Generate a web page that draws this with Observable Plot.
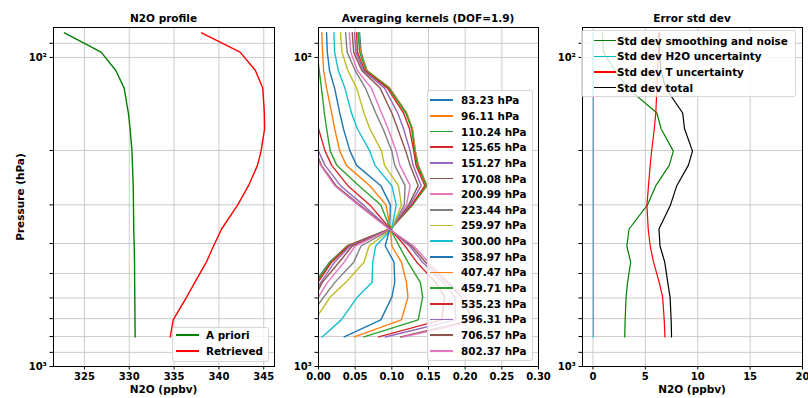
<!DOCTYPE html>
<html><head><meta charset="utf-8">
<script src="https://cdn.jsdelivr.net/npm/d3@7"></script>
<script src="https://cdn.jsdelivr.net/npm/@observablehq/plot@0.6"></script>
<style>
body{margin:0;background:#fff;}
#chart{position:relative;width:808px;height:398px;overflow:hidden;font-family:"DejaVu Sans",sans-serif;font-weight:bold;color:#000;}
#chart svg{position:absolute;left:0;top:0;background:transparent;}
.t{position:absolute;white-space:nowrap;font-size:10.5px;transform:translate(-50%,-50%);line-height:1;}
.leg{position:absolute;background:rgba(255,255,255,0.8);border:1px solid rgba(204,204,204,0.8);border-radius:3px;box-sizing:border-box;}
</style></head>
<body><div id="chart"></div>
<script>
// ---------- data ----------
const levels = [83.23, 96.11, 110.24, 125.65, 151.27, 170.08, 200.99, 223.44, 259.97, 300.00, 358.97, 407.47, 459.71, 535.23, 596.31, 706.57, 802.37];
const kernelLabels = ["83.23 hPa","96.11 hPa","110.24 hPa","125.65 hPa","151.27 hPa","170.08 hPa","200.99 hPa","223.44 hPa","259.97 hPa","300.00 hPa","358.97 hPa","407.47 hPa","459.71 hPa","535.23 hPa","596.31 hPa","706.57 hPa","802.37 hPa"];
const kernelColors = ["#1f77b4","#ff7f0e","#2ca02c","#d62728","#9467bd","#8c564b","#e377c2","#7f7f7f","#bcbd22","#17becf","#1f77b4","#ff7f0e","#2ca02c","#d62728","#9467bd","#8c564b","#e377c2"];

const aPriori   = [322.77, 326.86, 328.5, 329.43, 329.9, 330.1, 330.3, 330.36, 330.44, 330.47, 330.5, 330.55, 330.59, 330.6, 330.62, 330.64, 330.66];
const retrieved = [338.07, 342.36, 344.07, 344.89, 345.07, 345.1, 344.7, 344.3, 343.3, 342.1, 340.3, 339.4, 338.6, 337.3, 336.4, 334.9, 334.57];

// averaging kernel rows (one per retrieval level), values at each level
const kernelValues = [
 [0.056,0.058,0.066,0.097,0.120,0.128,0.132,0.136,0.148,0.128,0.097,0.039,0.015,-0.005,-0.017,-0.030,-0.040],
 [0.055,0.057,0.066,0.097,0.120,0.128,0.132,0.136,0.148,0.128,0.098,0.039,0.016,-0.004,-0.016,-0.030,-0.040],
 [0.054,0.056,0.065,0.096,0.119,0.127,0.131,0.135,0.147,0.128,0.098,0.040,0.016,-0.003,-0.015,-0.030,-0.040],
 [0.052,0.053,0.063,0.094,0.116,0.124,0.130,0.133,0.145,0.127,0.098,0.041,0.018,-0.001,-0.013,-0.028,-0.038],
 [0.049,0.051,0.061,0.090,0.108,0.116,0.125,0.129,0.140,0.125,0.099,0.043,0.022,0.003,-0.008,-0.025,-0.036],
 [0.046,0.048,0.059,0.084,0.100,0.108,0.119,0.125,0.136,0.123,0.099,0.046,0.028,0.005,-0.005,-0.020,-0.035],
 [0.042,0.044,0.053,0.072,0.086,0.095,0.106,0.111,0.125,0.120,0.099,0.050,0.035,0.012,0.000,-0.020,-0.035],
 [0.037,0.039,0.050,0.064,0.078,0.088,0.100,0.104,0.118,0.117,0.100,0.058,0.048,0.022,0.007,-0.015,-0.030],
 [0.030,0.032,0.040,0.052,0.062,0.070,0.086,0.090,0.109,0.113,0.100,0.069,0.062,0.037,0.016,-0.005,-0.020],
 [0.021,0.022,0.027,0.036,0.045,0.053,0.070,0.077,0.100,0.106,0.100,0.078,0.074,0.073,0.053,0.031,0.005],
 [0.011,0.012,0.015,0.022,0.029,0.034,0.043,0.052,0.085,0.098,0.097,0.091,0.103,0.104,0.100,0.085,0.035],
 [0.0045,0.0055,0.007,0.011,0.018,0.022,0.029,0.038,0.070,0.092,0.098,0.100,0.113,0.120,0.122,0.113,0.049],
 [-0.005,-0.002,0.001,0.004,0.008,0.011,0.016,0.025,0.055,0.085,0.098,0.110,0.122,0.139,0.142,0.136,0.062],
 [-0.045,-0.042,-0.035,-0.020,-0.006,0.000,0.009,0.018,0.040,0.070,0.098,0.118,0.134,0.160,0.172,0.168,0.082],
 [-0.055,-0.050,-0.042,-0.028,-0.014,-0.007,0.000,0.009,0.030,0.061,0.097,0.124,0.142,0.170,0.186,0.187,0.091],
 [-0.060,-0.055,-0.047,-0.033,-0.018,-0.011,-0.004,0.004,0.024,0.056,0.097,0.127,0.146,0.175,0.195,0.210,0.112],
 [-0.062,-0.057,-0.049,-0.035,-0.020,-0.012,-0.005,0.003,0.022,0.054,0.096,0.130,0.150,0.178,0.200,0.220,0.115]
];

const sdSmoothNoise = [0.9, 1.0, 2.1, 3.3, 6.1, 6.5, 7.67, 7.28, 6.0, 5.2, 3.45, 3.23, 3.6, 3.3, 3.16, 3.07, 3.03];
const sdH2O        = [0.03, 0.03, 0.03, 0.03, 0.03, 0.03, 0.03, 0.03, 0.03, 0.03, 0.03, 0.03, 0.03, 0.03, 0.03, 0.03, 0.03];
const sdT          = [6.3, 6.26, 6.17, 6.1, 6.0, 5.85, 5.6, 5.46, 5.3, 5.15, 5.27, 5.46, 5.78, 6.33, 6.65, 6.8, 6.87];
const sdTotal      = [6.36, 6.34, 6.49, 6.94, 8.56, 8.74, 9.5, 9.1, 8.0, 7.4, 6.3, 6.4, 6.85, 7.14, 7.36, 7.46, 7.5];

const yTicks = [90, 100, 200, 300, 400, 500, 600, 700, 800, 900, 1000];
const xTicksProfile = [325, 330, 335, 340, 345];
const xTicksKernel = [0, 0.05, 0.10, 0.15, 0.20, 0.25, 0.30];
const xTicksError = [0, 5, 10, 15, 20];

// ---------- layout ----------
const W = 808, H = 398, TOP = 27, BOTTOM = 366;
const chart = document.getElementById("chart");

function panel(left, right, xDomain, xTicks, xFmt, marks, extra = {}) {
  return Plot.plot({
    width: W, height: H,
    marginLeft: left, marginRight: W - right, marginTop: TOP, marginBottom: H - BOTTOM,
    style: {background: "transparent", overflow: "visible", fontFamily: "DejaVu Sans", fontWeight: "bold", fontSize: "10px", color: "black"},
    x: {domain: xDomain, ticks: xTicks, tickFormat: xFmt, tickSize: 3.5, tickPadding: 3, label: null},
    y: {type: "log", domain: [80, 1000], reverse: true, ticks: yTicks,
        tickFormat: d => d === 100 ? "10²" : d === 1000 ? "10³" : "", tickSize: 3.5, tickPadding: 3, label: null},
    ...extra,
    marks: [
      Plot.ruleY(yTicks, {y: d => d, stroke: "#c6c6c6", strokeWidth: 0.9}),
      Plot.ruleX(xTicks, {x: d => d, stroke: "#c6c6c6", strokeWidth: 0.9}),
      ...marks,
      Plot.frame({stroke: "black", strokeWidth: 1})
    ]
  });
}

const lvl = (d, i) => levels[i];

// Panel 1: profile
chart.appendChild(panel(53, 274, [321.55, 346.2], xTicksProfile, d => String(d), [
  Plot.line(aPriori, {x: d => d, y: lvl, stroke: "#008000", strokeWidth: 1.4}),
  Plot.line(retrieved, {x: d => d, y: lvl, stroke: "#ff0000", strokeWidth: 1.4})
]));

// Panel 2: averaging kernels
const kernelTable = [];
kernelValues.forEach((row, k) => row.forEach((v, j) => kernelTable.push({kernel: kernelLabels[k], p: levels[j], v})));
chart.appendChild(panel(318, 538, [0, 0.30], xTicksKernel, d3.format(".2f"), [
  Plot.line(kernelTable, {x: "v", y: "p", z: "kernel", stroke: "kernel", strokeWidth: 1.4, clip: true})
], {color: {type: "ordinal", domain: kernelLabels, range: kernelColors}}));

// Panel 3: error std dev
chart.appendChild(panel(582, 802, [-1, 20], xTicksError, d => String(d), [
  Plot.line(sdSmoothNoise, {x: d => d, y: lvl, stroke: "#008000", strokeWidth: 1.2}),
  Plot.line(sdH2O, {x: d => d, y: lvl, stroke: "#00bfbf", strokeWidth: 1.2}),
  Plot.line(sdT, {x: d => d, y: lvl, stroke: "#ff0000", strokeWidth: 1.2}),
  Plot.line(sdTotal, {x: d => d, y: lvl, stroke: "#000000", strokeWidth: 1.2})
]));

// ---------- texts ----------
function text(str, x, y, opts = {}) {
  const d = document.createElement("div");
  d.className = "t"; d.textContent = str;
  d.style.left = x + "px"; d.style.top = y + "px";
  if (opts.rotate) d.style.transform = "translate(-50%,-50%) rotate(-90deg)";
  if (opts.size) d.style.fontSize = opts.size + "px";
  chart.appendChild(d);
}
text("N2O profile", 163.5, 17.5);
text("Averaging kernels (DOF=1.9)", 428, 17.5);
text("Error std dev", 692, 17.5);
text("N2O (ppbv)", 163.5, 389);
text("N2O (ppbv)", 692, 389);
text("Pressure (hPa)", 19.5, 196.5, {rotate: true});

// ---------- legends ----------
function legend(box, rows, rowTop, rowGap, lineX, lineW, textX, fs, lw) {
  const b = document.createElement("div"); b.className = "leg";
  Object.assign(b.style, {left: box[0] + "px", top: box[1] + "px", width: box[2] + "px", height: box[3] + "px"});
  chart.appendChild(b);
  rows.forEach((r, i) => {
    const y = rowTop + i * rowGap;
    const ln = document.createElement("div");
    Object.assign(ln.style, {position: "absolute", left: lineX + "px", top: (y - lw / 2) + "px", width: lineW + "px", height: lw + "px", background: r.color});
    chart.appendChild(ln);
    const t = document.createElement("div");
    t.textContent = r.label;
    Object.assign(t.style, {position: "absolute", left: textX + "px", top: y + "px", transform: "translateY(-50%)", fontSize: fs + "px", whiteSpace: "nowrap", lineHeight: "1"});
    chart.appendChild(t);
  });
}
legend([171.5, 326.5, 97, 35.5], [{label: "A priori", color: "#008000"}, {label: "Retrieved", color: "#ff0000"}],
  335, 16, 175.5, 23, 206, 10.4, 1.5);
legend([426.5, 90, 106, 270.5], kernelLabels.map((l, i) => ({label: l, color: kernelColors[i]})),
  100.2, 15.66, 430, 23, 461, 10.4, 1.6);
legend([581, 30, 215, 67], [
  {label: "Std dev smoothing and noise", color: "#008000"},
  {label: "Std dev H2O uncertainty", color: "#00bfbf"},
  {label: "Std dev T uncertainty", color: "#ff0000"},
  {label: "Std dev total", color: "#000000"}],
  40.7, 15.6, 593.5, 22, 617, 10.4, 1.5);
</script>
</body></html>
